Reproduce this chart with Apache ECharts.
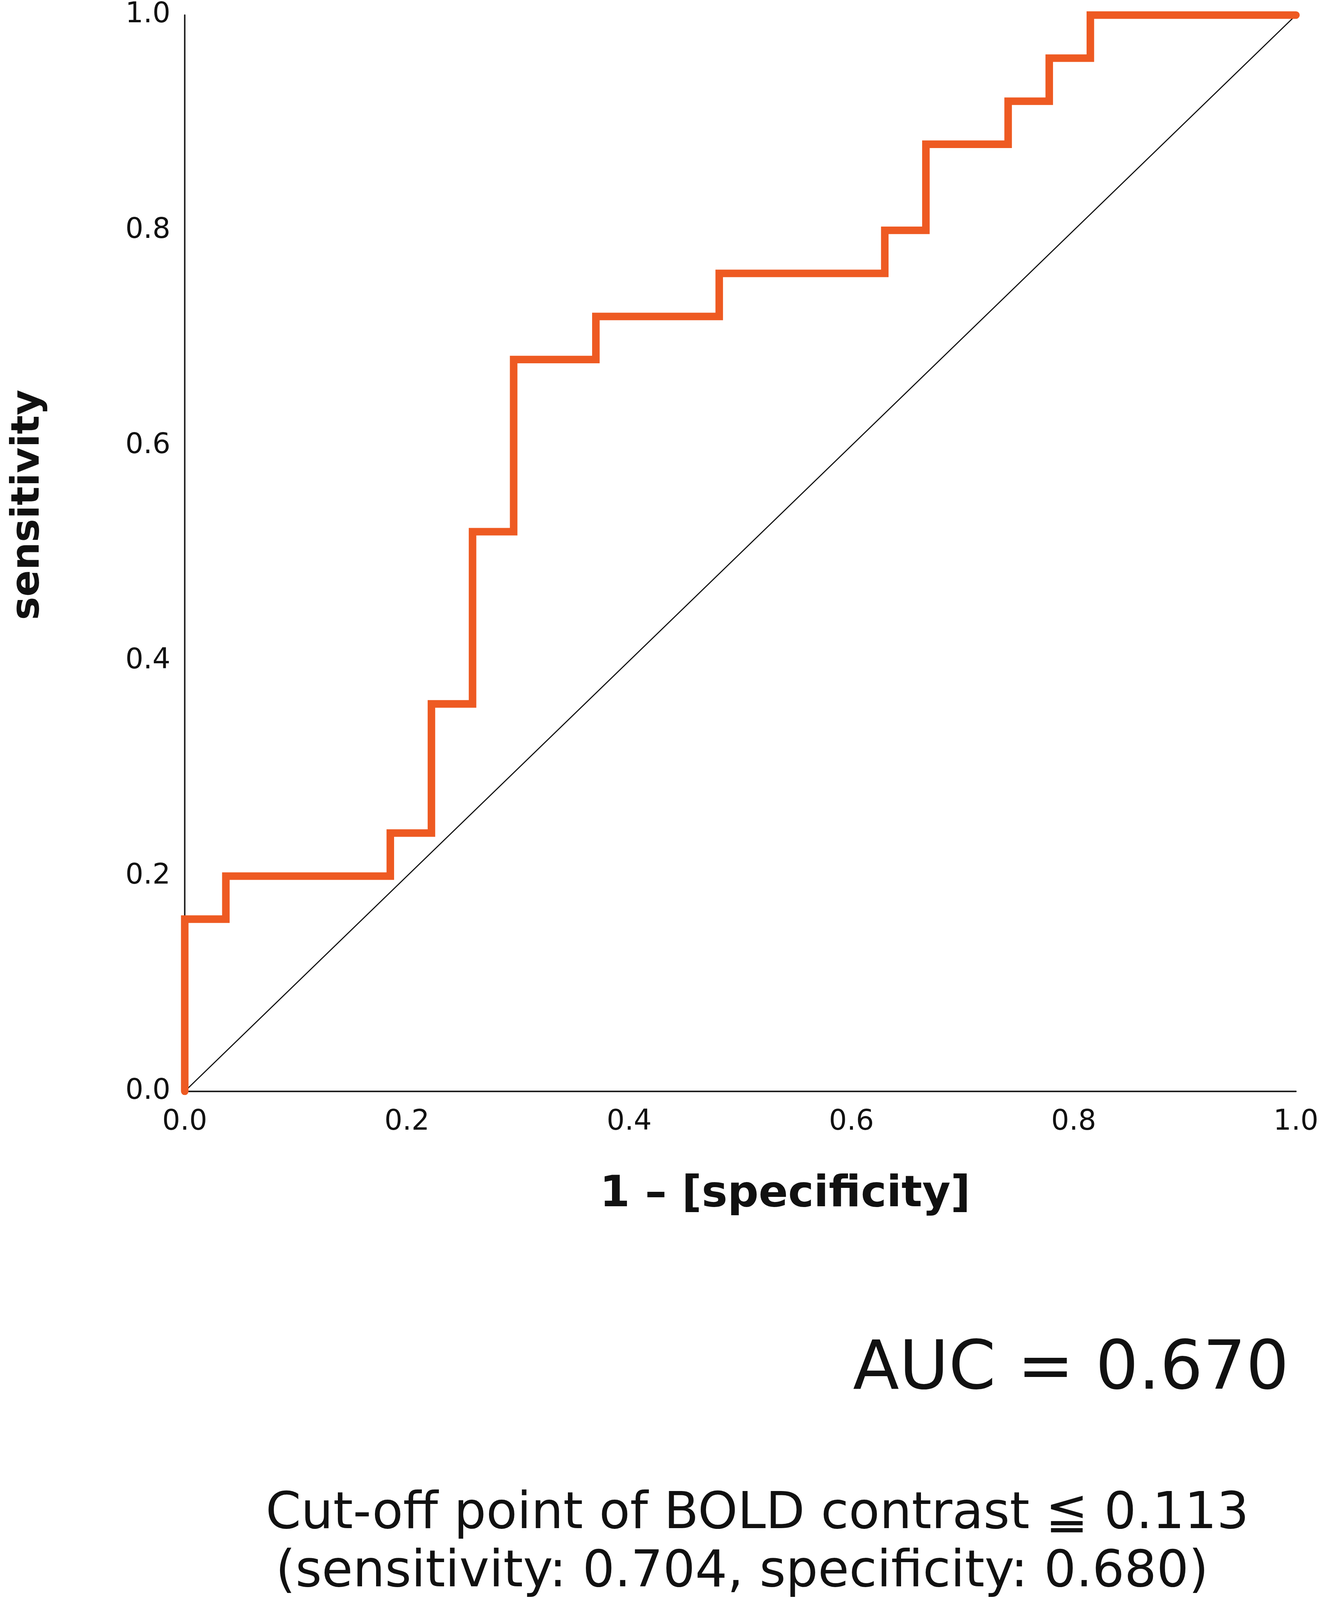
<!DOCTYPE html>
<html>
<head>
<meta charset="utf-8" />
<script src="https://cdn.jsdelivr.net/npm/echarts@6/dist/echarts.min.js" type="text/javascript" charset="utf-8"></script>
<title>ROC curve</title>
<style>
html, body { margin: 0; padding: 0; background: #fff; overflow: hidden; }
#main { width: 100vw; height: 100vh; }
</style>
</head>
<body>
<div id="main"></div>
</body>
<script type="text/javascript">
// ROC points (1 - specificity, sensitivity)
var fpr = [0, 0, 0.037, 0.037, 0.185, 0.185, 0.222, 0.222, 0.259, 0.259, 0.296, 0.296,
  0.370, 0.370, 0.481, 0.481, 0.630, 0.630, 0.667, 0.667, 0.741, 0.741, 0.778, 0.778,
  0.815, 0.815, 1.0];
var tpr = [0, 0.16, 0.16, 0.20, 0.20, 0.24, 0.24, 0.36, 0.36, 0.52, 0.52, 0.68,
  0.68, 0.72, 0.72, 0.76, 0.76, 0.80, 0.80, 0.88, 0.88, 0.92, 0.92, 0.96,
  0.96, 1.0, 1.0];
// chance line
var refX = [0, 1];
var refY = [0, 1];
var tickLabels = ['0.0', '0.2', '0.4', '0.6', '0.8', '1.0'];

var xTitle = '1 \u2013 [specificity]';
var yTitle = 'sensitivity';
var aucText = 'AUC = 0.670';
var cutLine1 = 'Cut-off point of BOLD contrast \u2266 0.113';
var cutLine2 = '(sensitivity: 0.704, specificity: 0.680)';

function pairs(xs, ys) {
  var out = [];
  for (var i = 0; i < xs.length; i++) out.push([xs[i], ys[i]]);
  return out;
}
function fmt(v) {
  return tickLabels[Math.round(v * 5)];
}

var dom = document.getElementById("main");
var myChart = echarts.init(dom, null, { renderer: 'canvas' });

// layout was measured on a 3395 x 4237 page, scale it to whatever we get
function build() {
  var W = dom.clientWidth, H = dom.clientHeight;
  var sx = W / 3395, sy = H / 4237, s = Math.min(sx, sy);
  var axisFont = { fontFamily: 'DejaVu Sans', fontSize: 75 * s, color: '#111' };
  function txt(x, y, text, font, align, rot) {
    return {
      type: 'text', x: x * sx, y: y * sy, rotation: rot || 0,
      style: { text: text, font: font, fill: '#111', textAlign: align, textVerticalAlign: 'middle' }
    };
  }
  return {
    backgroundColor: '#fff',
    animation: false,
    grid: { left: 473 * sx, top: 40 * sy, right: 77 * sx, bottom: 1347 * sy, containLabel: false },
    xAxis: {
      type: 'value', min: 0, max: 1, interval: 0.2,
      axisLine: { show: true, onZero: false, lineStyle: { color: '#222', width: 4 * s } },
      axisTick: { show: false },
      splitLine: { show: false },
      axisLabel: Object.assign({ margin: 44 * s, formatter: fmt }, axisFont)
    },
    yAxis: {
      type: 'value', min: 0, max: 1, interval: 0.2,
      axisLine: { show: true, onZero: false, lineStyle: { color: '#222', width: 4 * s } },
      axisTick: { show: false },
      splitLine: { show: false },
      axisLabel: Object.assign({ margin: 38 * s, formatter: fmt }, axisFont)
    },
    series: [
      {
        type: 'line',
        data: pairs(refX, refY),
        showSymbol: false,
        lineStyle: { color: '#111', width: 3 * s },
        z: 2
      },
      {
        type: 'line',
        data: pairs(fpr, tpr),
        showSymbol: false,
        lineStyle: { color: '#EE5A22', width: 20 * s, cap: 'round', join: 'miter' },
        z: 3
      }
    ],
    graphic: [
      txt(2010, 3164, xTitle, 'bold ' + (115 * s) + 'px "DejaVu Sans"', 'center'),
      txt(73, 1337, yTitle, 'bold ' + (104 * s) + 'px "DejaVu Sans"', 'center', Math.PI / 2),
      txt(3300, 3631, aucText, (179 * s) + 'px "DejaVu Sans"', 'right'),
      txt(1939, 4012, cutLine1, (134 * s) + 'px "DejaVu Sans"', 'center'),
      txt(1900, 4166, cutLine2, (134 * s) + 'px "DejaVu Sans"', 'center')
    ]
  };
}
myChart.setOption(build());
window.addEventListener('resize', function () {
  myChart.resize();
  myChart.setOption(build(), true);
});
</script>
</html>
